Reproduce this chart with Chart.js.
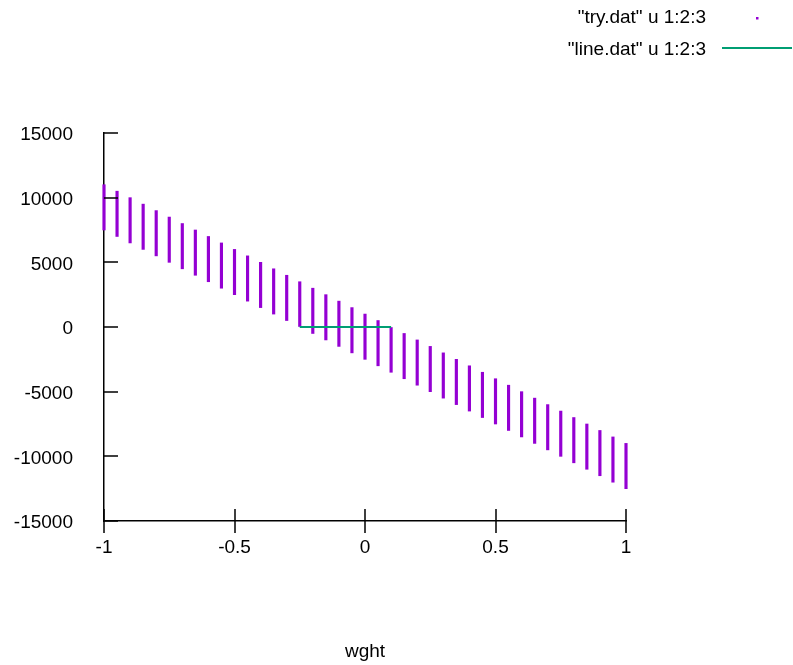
<!DOCTYPE html>
<html>
<head>
<meta charset="utf-8">
<script src="https://cdn.jsdelivr.net/npm/chart.js@4"></script>
<style>
  html, body { margin: 0; padding: 0; background: #fff; }
  #chart { display: block; }
</style>
</head>
<body>
<canvas id="chart" width="793" height="665"></canvas>
<script>
// ---- Data ----
const wght = [-1, -0.95, -0.9, -0.85, -0.8, -0.75, -0.7, -0.65, -0.6, -0.55, -0.5,
  -0.45, -0.4, -0.35, -0.3, -0.25, -0.2, -0.15, -0.1, -0.05, 0,
  0.05, 0.1, 0.15, 0.2, 0.25, 0.3, 0.35, 0.4, 0.45, 0.5,
  0.55, 0.6, 0.65, 0.7, 0.75, 0.8, 0.85, 0.9, 0.95, 1];
const tryHigh = [11000, 10500, 10000, 9500, 9000, 8500, 8000, 7500, 7000, 6500, 6000,
  5500, 5000, 4500, 4000, 3500, 3000, 2500, 2000, 1500, 1000,
  500, 0, -500, -1000, -1500, -2000, -2500, -3000, -3500, -4000,
  -4500, -5000, -5500, -6000, -6500, -7000, -7500, -8000, -8500, -9000];
const tryLow = [7500, 7000, 6500, 6000, 5500, 5000, 4500, 4000, 3500, 3000, 2500,
  2000, 1500, 1000, 500, 0, -500, -1000, -1500, -2000, -2500,
  -3000, -3500, -4000, -4500, -5000, -5500, -6000, -6500, -7000, -7500,
  -8000, -8500, -9000, -9500, -10000, -10500, -11000, -11500, -12000, -12500];
const lineX = [-0.25, 0.1];
const lineY = [0, 0];
const legendLabels = ['"try.dat" u 1:2:3', '"line.dat" u 1:2:3'];

const PURPLE = '#9400d3';
const GREEN = '#009e73';
const FONT = 'Liberation Sans, Arial, sans-serif';

// gnuplot-like inward tick marks, legend in the top right corner
const gnuplotBits = {
  id: 'gnuplotBits',
  afterDraw(chart) {
    const { ctx, chartArea: a, scales: { x, y } } = chart;
    ctx.save();
    ctx.strokeStyle = '#000';
    ctx.lineWidth = 1.5;
    ctx.beginPath();
    y.ticks.forEach(t => {
      const py = Math.round(y.getPixelForValue(t.value));
      ctx.moveTo(a.left, py);
      ctx.lineTo(a.left + 14, py);
    });
    x.ticks.forEach(t => {
      const px = Math.round(x.getPixelForValue(t.value));
      ctx.moveTo(px, a.bottom - 12);
      ctx.lineTo(px, a.bottom + 12);
    });
    ctx.stroke();

    // legend
    ctx.font = '19px ' + FONT;
    ctx.fillStyle = '#000';
    ctx.textAlign = 'right';
    ctx.textBaseline = 'middle';
    ctx.fillText(legendLabels[0], 706, 18);
    ctx.fillText(legendLabels[1], 706, 50);
    ctx.fillStyle = PURPLE;
    ctx.fillRect(756, 17, 2.5, 2.5);
    ctx.strokeStyle = GREEN;
    ctx.lineWidth = 2;
    ctx.beginPath();
    ctx.moveTo(722, 48);
    ctx.lineTo(792, 48);
    ctx.stroke();
    ctx.restore();
  }
};

new Chart(document.getElementById('chart'), {
  data: {
    datasets: [
      {
        type: 'line',
        label: legendLabels[1],
        data: lineX.map((v, i) => ({ x: v, y: lineY[i] })),
        borderColor: GREEN,
        borderWidth: 2,
        pointRadius: 0,
        order: 0
      },
      {
        type: 'bar',
        label: legendLabels[0],
        data: wght.map((v, i) => ({ x: v, y: [tryLow[i], tryHigh[i]] })),
        backgroundColor: PURPLE,
        borderWidth: 0,
        barThickness: 2.5,
        clip: false,
        order: 1
      }
    ]
  },
  options: {
    responsive: false,
    animation: false,
    layout: { padding: { top: 133, right: 167, left: 0, bottom: 0 } },
    plugins: { legend: { display: false }, tooltip: { enabled: false } },
    scales: {
      x: {
        type: 'linear',
        min: -1, max: 1,
        offset: false,
        afterFit: s => { s.height = 144; },
        ticks: { stepSize: 0.5, padding: 15, color: '#000', font: { family: FONT, size: 19 }, callback: v => String(v) },
        grid: { display: true, drawOnChartArea: false, drawTicks: false },
        border: { display: true, color: '#000', width: 1.5 },
        title: { display: true, text: 'wght', color: '#000', font: { family: FONT, size: 19 }, padding: { top: 0, bottom: 2 } }
      },
      y: {
        type: 'linear',
        min: -15000, max: 15000,
        afterFit: s => { s.width = 104; },
        ticks: { stepSize: 5000, padding: 31, labelOffset: 2, color: '#000', font: { family: FONT, size: 19 }, callback: v => String(v) },
        grid: { display: true, drawOnChartArea: false, drawTicks: false },
        border: { display: true, color: '#000', width: 1.5 }
      }
    }
  },
  plugins: [gnuplotBits]
});
</script>
</body>
</html>
